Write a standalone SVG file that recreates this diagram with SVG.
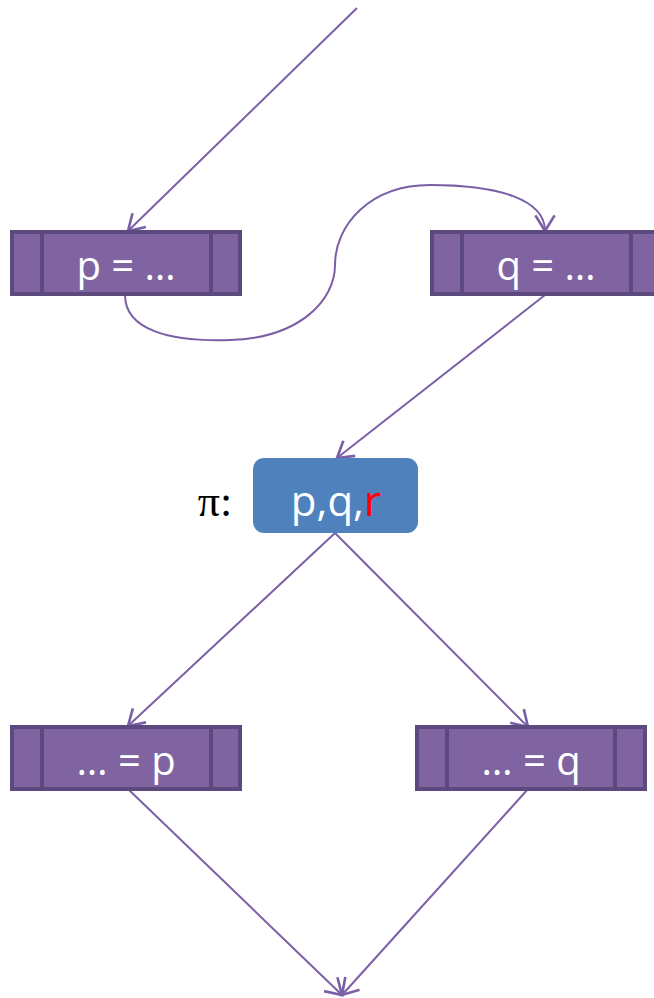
<svg xmlns="http://www.w3.org/2000/svg" width="654" height="998" viewBox="0 0 654 998">
<style>
.blk{fill:#8064a2;stroke:#5c4a7e;stroke-width:4}
.div{stroke:#5c4a7e;stroke-width:4}
.t{font-family:"Open Sans","Liberation Sans",sans-serif;font-size:40px;fill:#fff;text-anchor:middle}
.c{fill:none;stroke:#7b5fa6;stroke-width:2;marker-end:url(#a)}
</style>
<defs>
<marker id="a" markerWidth="24" markerHeight="24" refX="0" refY="0" viewBox="-14 -10 16 20" orient="auto" markerUnits="userSpaceOnUse">
<path d="M-13,-8 L0,0 L-13,8" fill="none" stroke="#7b5fa6" stroke-width="2.2"/>
</marker>
</defs>
<g id="connectors">
<path class="c" d="M357,8 L128,231"/>
<path class="c" d="M125,295 C125,330 170,342 230,340 C300,338 335,300 335,265 C335,225 370,185 430,185 C500,185 545,200 545,231"/>
<path class="c" d="M545,295 L337,458"/>
<path class="c" d="M335,533 L128,726"/>
<path class="c" d="M335,533 L528,727"/>
<path class="c" d="M128,789 L342,995"/>
<path class="c" d="M528,789 L342,995"/>
</g>
<g id="p_def">
<rect class="blk" x="12" y="232" width="228" height="62"/>
<line class="div" x1="42" y1="232" x2="42" y2="294"/>
<line class="div" x1="211" y1="232" x2="211" y2="294"/>
<text class="t" x="126" y="280">p = …</text>
</g>
<g id="q_def">
<rect class="blk" x="432" y="232" width="228" height="62"/>
<line class="div" x1="462" y1="232" x2="462" y2="294"/>
<line class="div" x1="631" y1="232" x2="631" y2="294"/>
<text class="t" x="546" y="280">q = …</text>
</g>
<g id="phi">
<text x="215" y="516" font-family="Liberation Serif,serif" font-size="44" fill="#000" text-anchor="middle">π:</text>
<rect x="253" y="458" width="165" height="75" rx="11" fill="#4f81bd"/>
<text x="336" y="516" font-family="Open Sans,Liberation Sans,sans-serif" font-size="42" fill="#fff" text-anchor="middle">p,q,<tspan fill="#ff0000">r</tspan></text>
</g>
<g id="use_p">
<rect class="blk" x="12" y="727" width="228" height="62"/>
<line class="div" x1="42" y1="727" x2="42" y2="789"/>
<line class="div" x1="211" y1="727" x2="211" y2="789"/>
<text class="t" x="126" y="775">… = p</text>
</g>
<g id="use_q">
<rect class="blk" x="417" y="727" width="228" height="62"/>
<line class="div" x1="447" y1="727" x2="447" y2="789"/>
<line class="div" x1="615" y1="727" x2="615" y2="789"/>
<text class="t" x="531" y="775">… = q</text>
</g>
</svg>
